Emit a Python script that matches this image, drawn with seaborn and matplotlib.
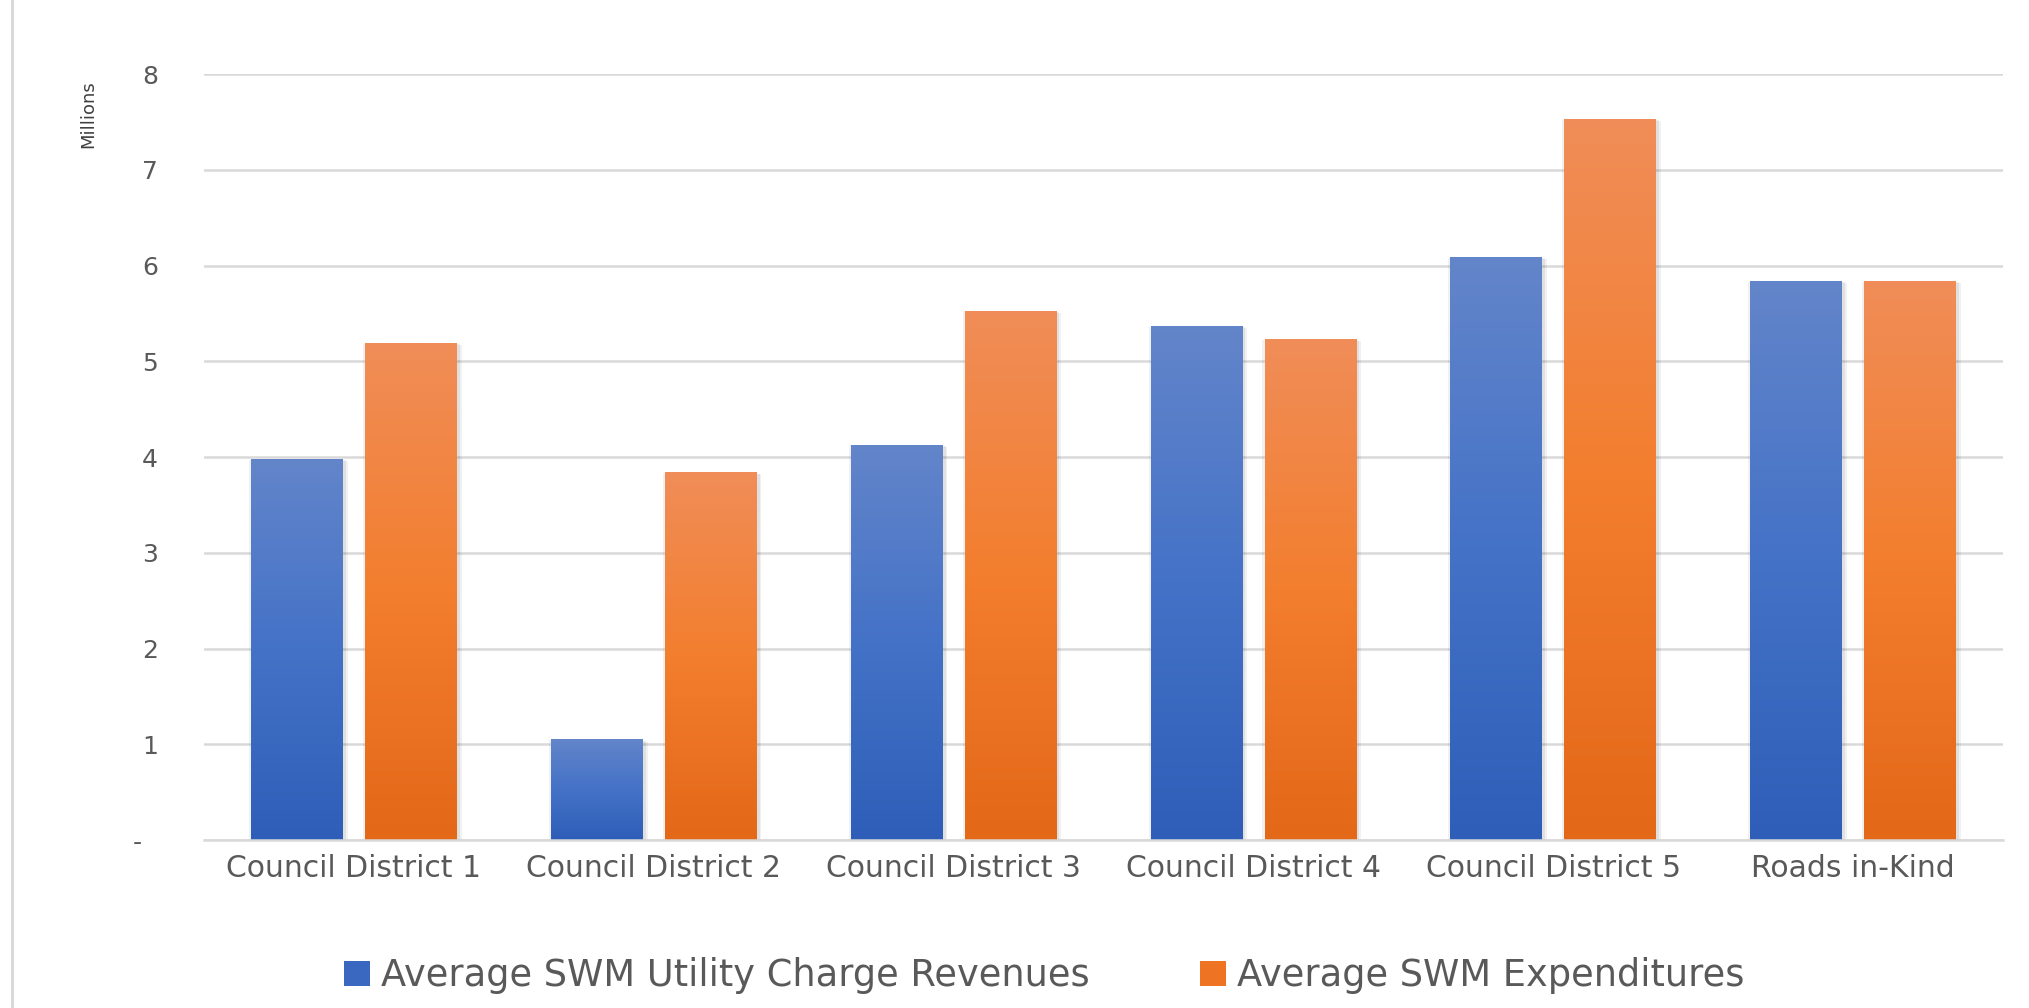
import numpy as np
import pandas as pd
import matplotlib
matplotlib.use("Agg")
import matplotlib.pyplot as plt
import matplotlib.patheffects as pe
from matplotlib.colors import LinearSegmentedColormap
from matplotlib.patches import Patch
from matplotlib.lines import Line2D
import seaborn as sns

# ---- data ----
categories = ["Council District 1", "Council District 2", "Council District 3",
              "Council District 4", "Council District 5", "Roads in-Kind"]
revenues = [3.98, 1.05, 4.13, 5.37, 6.09, 5.84]
expenditures = [5.19, 3.84, 5.53, 5.23, 7.53, 5.84]
series_names = ["Average SWM Utility Charge Revenues", "Average SWM Expenditures"]
y_ticks = [0, 1, 2, 3, 4, 5, 6, 7, 8]
y_tick_labels = ["-  ", "1", "2", "3", "4", "5", "6", "7", "8"]

df = pd.DataFrame({
    "category": categories * 2,
    "series": [series_names[0]] * len(categories) + [series_names[1]] * len(categories),
    "value": revenues + expenditures,
})

sns.set_theme(style="white")
plt.rcParams["font.family"] = ["DejaVu Sans"]

BLUE_MID = "#4472C4"
ORANGE_MID = "#F37D2E"
GRID = "#D9D9D9"
TXT = "#595959"

fig = plt.figure(figsize=(20.29, 10.08), dpi=100, facecolor="white")
ax = fig.add_axes([204 / 2029, 1 - 840 / 1008, (2003 - 204) / 2029, (840 - 74) / 1008])

sns.barplot(data=df, x="category", y="value", hue="series", order=categories,
            hue_order=series_names, palette=[BLUE_MID, ORANGE_MID],
            width=0.76, gap=0.195, ax=ax, legend=False, saturation=1,
            linewidth=0, edgecolor="none")

ax.set_axisbelow(True)
ax.set_ylim(0, 8)
ax.set_xlim(-0.5, len(categories) - 0.5)
ax.set_yticks(y_ticks)
ax.set_yticklabels(y_tick_labels)
ax.yaxis.grid(True, color=GRID, linewidth=1.8)
ax.xaxis.grid(False)
for s in ["top", "right", "left"]:
    ax.spines[s].set_visible(False)
ax.spines["bottom"].set_color(GRID)
ax.spines["bottom"].set_linewidth(1.8)
ax.tick_params(axis="y", length=0, pad=33, labelsize=18, labelcolor=TXT)
ax.tick_params(axis="x", length=0, pad=10, labelsize=21.5, labelcolor=TXT)
ax.set_xlabel("")
ax.set_ylabel("")

# gradient fills clipped to each bar
cmaps = [
    LinearSegmentedColormap.from_list("b", ["#2E5EB8", "#4472C7", "#6385CA"]),
    LinearSegmentedColormap.from_list("o", ["#E36818", "#F37E2E", "#F08D58"]),
]
grad = np.linspace(0, 1, 256).reshape(-1, 1)
shadow = [pe.SimplePatchShadow(offset=(3.5, -1.5), shadow_rgbFace="k", alpha=0.06),
          pe.SimplePatchShadow(offset=(2.2, -1), shadow_rgbFace="k", alpha=0.08),
          pe.SimplePatchShadow(offset=(-1.5, -0.5), shadow_rgbFace="k", alpha=0.06),
          pe.Normal()]
for cont, cmap in zip(ax.containers, cmaps):
    for bar in cont:
        bar.set_path_effects(shadow)
        x0, y0 = bar.get_x(), bar.get_y()
        w, h = bar.get_width(), bar.get_height()
        im = ax.imshow(grad, extent=[x0, x0 + w, y0, y0 + h], origin="lower",
                       aspect="auto", cmap=cmap, zorder=bar.get_zorder() + 0.1,
                       interpolation="bilinear")
        im.set_clip_path(bar)
ax.set_ylim(0, 8)
ax.set_xlim(-0.5, len(categories) - 0.5)

# "Millions" label
fig.text(88 / 2029, 1 - 114 / 1008, "Millions", rotation=90, ha="center",
         va="center", fontsize=13, color="#404040")

# legend
handles = [Patch(facecolor="#3A68C0", edgecolor="none"),
           Patch(facecolor="#EE7424", edgecolor="none")]
fig.legend(handles, series_names, loc="center", bbox_to_anchor=(1044 / 2029, 1 - 976 / 1008),
           ncol=2, frameon=False, fontsize=26.5, labelcolor=TXT, handlelength=0.7,
           handleheight=0.65, handletextpad=0.3, columnspacing=3.0)

# left border line
fig.add_artist(Line2D([11.5 / 2029, 11.5 / 2029], [0, 1], color=GRID, linewidth=2.2))

fig.savefig("out.png", dpi=100, facecolor="white")
